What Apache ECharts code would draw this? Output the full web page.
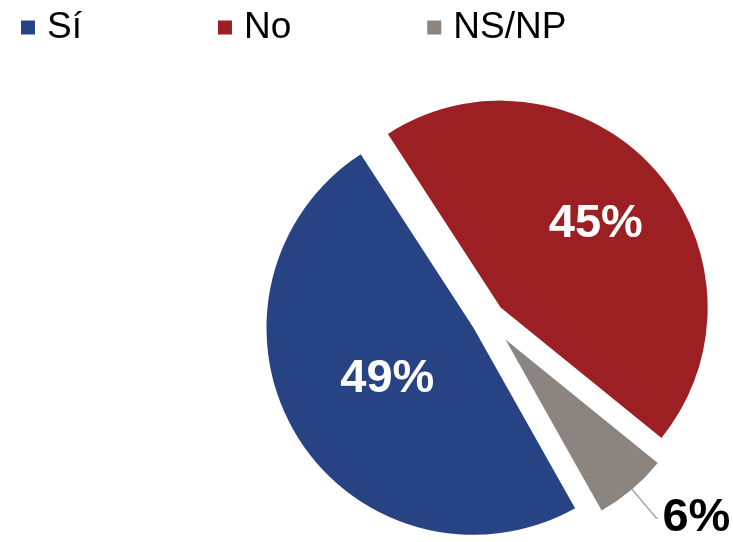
<!DOCTYPE html>
<html>
<head>
<meta charset="utf-8">
<script src="https://cdn.jsdelivr.net/npm/echarts@6/dist/echarts.min.js"></script>
<style>html,body{margin:0;padding:0;background:#fff}#c{width:733px;height:542px}</style>
</head>
<body>
<div id="c"></div>
<script>
// Drawing order (clockwise from start angle)
const categories = ['No', 'NS/NP', 'Sí'];
const values = [45, 6, 49];
const colors = ['#9C1F24', '#8C847F', '#284384'];
const legendOrder = ['Sí', 'No', 'NS/NP'];

const FONT = 'Liberation Sans, Arial, sans-serif';

function buildData(visibleSet) {
  return categories.map((name, i) => {
    const vis = visibleSet.includes(i);
    return {
      name: name,
      value: values[i],
      selected: vis,
      itemStyle: { color: vis ? colors[i] : 'transparent' },
      label: { show: vis },
      labelLine: { show: vis }
    };
  });
}

const chart = echarts.init(document.getElementById('c'), null, { renderer: 'canvas' });
chart.setOption({
  animation: false,
  legend: {
    left: 16,
    top: 4,
    itemWidth: 14,
    itemHeight: 14,
    itemGap: 136,
    icon: 'rect',
    selectedMode: false,
    textStyle: { fontFamily: FONT, fontSize: 37, color: '#000', padding: [0, 0, 0, 7] },
    data: legendOrder.map(n => ({ name: n, itemStyle: { color: colors[categories.indexOf(n)], opacity: 1 } }))
  },
  series: [
    {
      type: 'pie',
      center: [488, 319],
      radius: 207,
      startAngle: 123,
      clockwise: true,
      selectedMode: 'multiple',
      selectedOffset: 17,
      avoidLabelOverlap: false,
      emphasis: { disabled: true },
      itemStyle: { borderWidth: 0 },
      label: {
        position: 'inside',
        formatter: '{c}%',
        color: '#fff',
        fontFamily: FONT,
        fontWeight: 'bold',
        fontSize: 47
      },
      labelLayout: function (p) {
        if (p.dataIndex === 0) return { dx: 16, dy: -12 };
        if (p.dataIndex === 2) return { dx: 5, dy: -4 };
        return {};
      },
      data: buildData([0, 2])
    },
    {
      type: 'pie',
      center: [488, 319],
      radius: 196,
      startAngle: 123,
      clockwise: true,
      selectedMode: 'multiple',
      selectedOffset: 27,
      avoidLabelOverlap: false,
      emphasis: { disabled: true },
      itemStyle: { borderWidth: 0 },
      label: {
        position: 'outside',
        formatter: '{c}%',
        color: '#000',
        fontFamily: FONT,
        fontWeight: 'bold',
        fontSize: 47,
        distanceToLabelLine: 5
      },
      labelLine: {
        length: 38,
        length2: 1,
        lineStyle: { color: '#A6A6A6', width: 1.5 }
      },
      data: buildData([1])
    }
  ]
});
</script>
</body>
</html>
